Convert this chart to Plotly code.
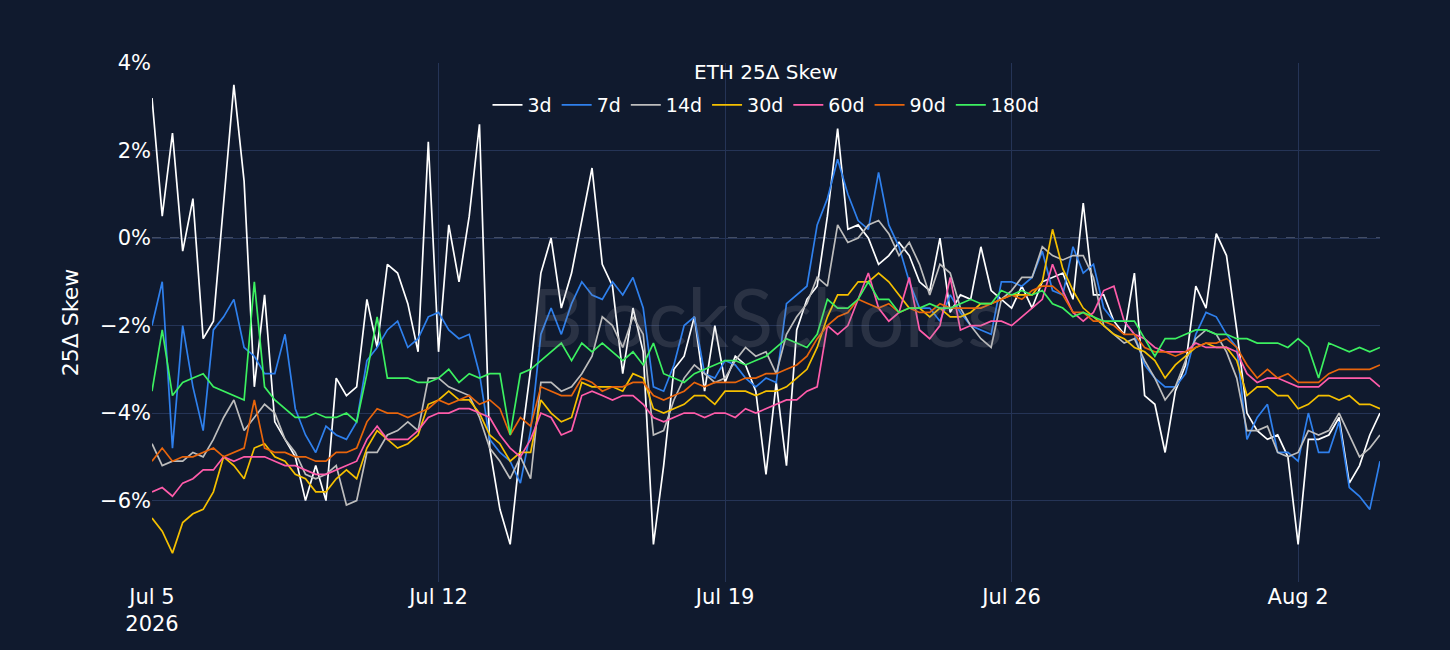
import pandas as pd
import plotly.graph_objects as go

config = {'displayModeBar': False}

# 6-hourly samples, Jul 5 2026 -> Aug 4 2026 (121 points)
times = pd.date_range("2026-07-05", periods=121, freq="6h")

# ETH 25-delta skew by tenor, in %
skew_3d = [3.2, 0.5, 2.4, -0.3, 0.9, -2.3, -1.9, 0.8, 3.5, 1.3, -3.4, -1.3, -4.2, -4.6, -5.0, -6.0, -5.2, -6.0, -3.2, -3.6, -3.4, -1.4, -2.5, -0.6, -0.8,
           -1.5, -2.6, 2.2, -2.6, 0.3, -1.0, 0.5, 2.6, -4.8, -6.2, -7.0, -4.8, -3.0, -0.8, 0.0, -1.6, -0.8, 0.4, 1.6, -0.6, -1.1, -3.1, -1.6, -2.6,
           -7.0, -5.2, -3.0, -2.7, -1.8, -3.5, -2.0, -3.3, -2.7, -2.9, -3.5, -5.4, -3.3, -5.2, -2.1, -1.4, -1.1, 0.5, 2.5, 0.2, 0.3, 0.0, -0.6, -0.4,
           -0.1, -0.4, -1.0, -1.2, 0.0, -1.7, -1.3, -1.4, -0.2, -1.2, -1.4, -1.6, -1.1, -1.6, -1.0, -0.9, -0.8, -1.4, 0.8, -1.3, -1.3, -1.9, -2.2, -0.8,
           -3.6, -3.8, -4.9, -3.5, -2.9, -1.1, -1.6, 0.1, -0.4, -2.1, -4.0, -4.4, -4.6, -4.5, -5.0, -7.0, -4.6, -4.6, -4.5, -4.1, -5.6, -5.2, -4.5, -4.0]
skew_7d = [-2.0, -1.0, -4.8, -2.0, -3.4, -4.4, -2.1, -1.8, -1.4, -2.5, -2.7, -3.1, -3.1, -2.2, -3.9, -4.5, -4.9, -4.3, -4.5, -4.6, -4.2, -2.8, -2.5, -2.1, -1.9,
           -2.5, -2.3, -1.8, -1.7, -2.1, -2.3, -2.2, -3.1, -4.6, -4.9, -5.1, -5.6, -4.4, -2.2, -1.6, -2.2, -1.5, -1.0, -1.3, -1.4, -1.0, -1.3, -0.9, -1.6,
           -3.4, -3.5, -2.9, -2.0, -1.8, -3.1, -3.2, -2.8, -2.9, -3.2, -3.4, -3.2, -3.3, -1.5, -1.3, -1.1, 0.3, 0.9, 1.8, 1.0, 0.4, 0.2, 1.5, 0.3,
           -0.2, -1.0, -1.6, -1.6, -1.9, -1.3, -1.7, -2.0, -2.1, -2.2, -1.0, -1.0, -1.1, -0.9, -0.3, -1.2, -1.3, -0.2, -0.8, -0.6, -1.6, -1.9, -1.9, -2.2,
           -2.9, -3.2, -3.4, -3.4, -3.1, -2.2, -1.7, -1.8, -2.2, -2.5, -4.6, -4.1, -3.8, -4.9, -4.9, -5.1, -4.0, -4.9, -4.9, -4.2, -5.7, -5.9, -6.2, -5.1]
skew_14d = [-4.7, -5.2, -5.1, -5.1, -4.9, -5.0, -4.6, -4.1, -3.7, -4.4, -4.1, -3.8, -4.0, -4.6, -4.9, -5.4, -5.5, -5.4, -5.2, -6.1, -6.0, -4.9, -4.9, -4.5, -4.4,
            -4.2, -4.4, -3.2, -3.2, -3.4, -3.5, -3.6, -4.1, -4.8, -5.1, -5.5, -5.0, -5.5, -3.3, -3.3, -3.5, -3.4, -3.1, -2.7, -1.8, -2.0, -2.5, -1.8, -2.2,
            -4.5, -4.4, -3.7, -3.2, -2.9, -3.1, -3.3, -3.2, -2.8, -2.5, -2.7, -2.6, -3.1, -2.2, -1.8, -1.5, -0.9, -1.1, 0.3, -0.1, 0.0, 0.3, 0.4, 0.1,
            -0.4, -0.1, -0.6, -1.3, -0.6, -0.8, -1.6, -2.0, -2.3, -2.5, -1.4, -1.2, -0.9, -0.9, -0.2, -0.4, -0.5, -0.4, -0.4, -0.9, -2.0, -2.2, -2.4, -2.3,
            -2.8, -3.2, -3.7, -3.4, -2.8, -2.3, -2.1, -2.2, -2.6, -3.2, -4.4, -4.4, -4.3, -4.9, -5.0, -4.9, -4.4, -4.5, -4.4, -4.0, -4.5, -5.0, -4.8, -4.5]
skew_30d = [-6.4, -6.7, -7.2, -6.5, -6.3, -6.2, -5.8, -5.0, -5.2, -5.5, -4.8, -4.7, -5.0, -5.1, -5.4, -5.5, -5.8, -5.8, -5.5, -5.3, -5.5, -4.8, -4.4, -4.6, -4.8,
            -4.7, -4.5, -3.8, -3.7, -3.5, -3.7, -3.7, -4.0, -4.5, -4.7, -5.1, -4.9, -4.9, -3.7, -4.0, -4.2, -4.1, -3.3, -3.4, -3.4, -3.4, -3.5, -3.1, -3.2,
            -3.9, -4.0, -3.9, -3.8, -3.6, -3.6, -3.8, -3.5, -3.5, -3.5, -3.6, -3.5, -3.5, -3.4, -3.2, -3.0, -2.5, -1.8, -1.3, -1.3, -1.0, -1.0, -0.8, -1.0,
            -1.3, -1.6, -1.6, -1.8, -1.6, -1.8, -1.8, -1.7, -1.5, -1.5, -1.4, -1.3, -1.3, -1.3, -1.0, 0.2, -0.7, -1.2, -1.6, -1.8, -2.0, -2.2, -2.3, -2.5,
            -2.6, -2.8, -3.2, -2.9, -2.7, -2.5, -2.4, -2.5, -2.5, -2.8, -3.6, -3.4, -3.4, -3.6, -3.6, -3.9, -3.8, -3.6, -3.6, -3.7, -3.6, -3.8, -3.8, -3.9]
skew_60d = [-5.8, -5.7, -5.9, -5.6, -5.5, -5.3, -5.3, -5.0, -5.1, -5.0, -5.0, -5.0, -5.1, -5.2, -5.2, -5.3, -5.4, -5.4, -5.3, -5.2, -5.1, -4.6, -4.3, -4.6, -4.6,
            -4.6, -4.4, -4.1, -4.0, -4.0, -3.9, -3.9, -4.0, -4.1, -4.5, -4.8, -5.0, -4.6, -4.0, -4.1, -4.5, -4.4, -3.6, -3.5, -3.6, -3.7, -3.6, -3.6, -3.8,
            -4.1, -4.2, -4.1, -4.0, -4.0, -4.1, -4.0, -4.0, -4.1, -3.9, -4.0, -3.9, -3.8, -3.7, -3.7, -3.5, -3.4, -2.0, -2.2, -2.0, -1.4, -0.8, -1.6, -1.9,
            -1.7, -0.9, -2.1, -2.3, -2.0, -0.9, -2.1, -2.0, -2.0, -1.9, -1.9, -2.0, -1.8, -1.6, -1.4, -0.6, -1.2, -1.7, -1.9, -1.7, -1.2, -1.1, -1.9, -2.2,
            -2.3, -2.5, -2.6, -2.6, -2.6, -2.4, -2.5, -2.5, -2.5, -2.6, -3.1, -3.3, -3.2, -3.2, -3.3, -3.4, -3.4, -3.4, -3.2, -3.2, -3.2, -3.2, -3.2, -3.4]
skew_90d = [-5.1, -4.8, -5.1, -5.0, -5.0, -4.9, -4.8, -5.0, -4.9, -4.8, -3.7, -4.8, -4.9, -4.9, -5.0, -5.0, -5.1, -5.1, -4.9, -4.9, -4.8, -4.2, -3.9, -4.0, -4.0,
            -4.1, -4.0, -3.9, -3.7, -3.8, -3.7, -3.6, -3.8, -3.7, -3.9, -4.5, -4.1, -4.3, -3.4, -3.5, -3.6, -3.6, -3.2, -3.3, -3.5, -3.4, -3.4, -3.3, -3.3,
            -3.6, -3.7, -3.6, -3.5, -3.3, -3.4, -3.3, -3.3, -3.3, -3.2, -3.2, -3.1, -3.1, -3.0, -2.9, -2.7, -2.3, -2.0, -1.8, -1.7, -1.4, -1.5, -1.6, -1.5,
            -1.7, -1.6, -1.7, -1.7, -1.5, -1.6, -1.6, -1.6, -1.6, -1.5, -1.4, -1.3, -1.4, -1.2, -1.1, -1.1, -1.3, -1.7, -1.7, -1.9, -1.9, -2.0, -2.2, -2.2,
            -2.5, -2.6, -2.6, -2.7, -2.6, -2.5, -2.4, -2.4, -2.3, -2.5, -2.9, -3.2, -3.0, -3.2, -3.1, -3.3, -3.3, -3.3, -3.1, -3.0, -3.0, -3.0, -3.0, -2.9]
skew_180d = [-3.5, -2.1, -3.6, -3.3, -3.2, -3.1, -3.4, -3.5, -3.6, -3.7, -1.0, -3.4, -3.7, -3.9, -4.1, -4.1, -4.0, -4.1, -4.1, -4.0, -4.2, -3.1, -1.8, -3.2, -3.2,
             -3.2, -3.3, -3.3, -3.2, -3.0, -3.3, -3.1, -3.2, -3.1, -3.1, -4.5, -3.1, -3.0, -2.8, -2.6, -2.4, -2.8, -2.4, -2.6, -2.4, -2.6, -2.8, -2.6, -2.9,
             -2.4, -3.1, -3.2, -3.3, -3.1, -3.0, -2.9, -2.8, -2.8, -2.9, -2.8, -2.7, -2.5, -2.3, -2.4, -2.5, -2.2, -1.4, -1.6, -1.6, -1.4, -1.0, -1.4, -1.4,
             -1.7, -1.6, -1.6, -1.5, -1.6, -1.6, -1.5, -1.4, -1.5, -1.5, -1.2, -1.3, -1.2, -1.3, -1.2, -1.5, -1.6, -1.8, -1.7, -1.8, -1.9, -1.9, -1.9, -1.9,
             -2.3, -2.7, -2.3, -2.3, -2.2, -2.1, -2.1, -2.2, -2.2, -2.3, -2.3, -2.4, -2.4, -2.4, -2.5, -2.3, -2.5, -3.2, -2.4, -2.5, -2.6, -2.5, -2.6, -2.5]

tenors = ["3d", "7d", "14d", "30d", "60d", "90d", "180d"]
colors = ["#ffffff", "#2f80ed", "#bdbdbd", "#f5c000", "#ff5caa", "#e8650c", "#3cf060"]
series = [skew_3d, skew_7d, skew_14d, skew_30d, skew_60d, skew_90d, skew_180d]

bg = "#101a2e"
grid = "#253456"
font = "DejaVu Sans"

fig = go.Figure()
for name, col, ys in zip(tenors, colors, series):
    fig.add_trace(go.Scatter(x=times, y=ys, mode="lines", name=name,
                             line=dict(color=col, width=1.7)))

# dashed zero line
fig.add_shape(type="line", xref="paper", x0=0, x1=1, yref="y", y0=0, y1=0,
              line=dict(color="#7f8aa3", width=1, dash="dash"), layer="between")

# faint watermark
fig.add_annotation(text="BlockScholes", xref="paper", yref="paper", x=0.50, y=0.515,
                   showarrow=False, font=dict(family="Lato", size=82, color="rgba(150,150,160,0.2)"))

fig.update_layout(
    width=1450, height=650,
    paper_bgcolor=bg, plot_bgcolor=bg,
    font=dict(family=font, color="#ffffff", size=21),
    title=dict(text="ETH 25Δ Skew", x=0.5, xanchor="center", xref="paper",
               y=0.983, yref="paper", yanchor="middle", font=dict(size=20)),
    legend=dict(orientation="h", x=0.5, xanchor="center", y=0.919, yanchor="middle",
                bgcolor="rgba(0,0,0,0)", font=dict(size=19)),
    margin=dict(l=152, r=70, t=63, b=68),
    showlegend=True,
    xaxis=dict(range=["2026-07-05", "2026-08-04"], tick0="2026-07-05", dtick=7 * 86400000,
               showgrid=True, gridcolor=grid, gridwidth=1, zeroline=False, showline=False,
               tickfont=dict(size=21)),
    yaxis=dict(range=[-7.86, 4.0], dtick=2, ticksuffix="%", showgrid=True, gridcolor=grid,
               zeroline=False, showline=False, tickfont=dict(size=21),
               title=dict(text="25Δ Skew", font=dict(size=22))),
)

fig.write_html("out.html", config=config,
               post_script="document.body.style.margin='0';document.body.style.background='#101a2e';")
